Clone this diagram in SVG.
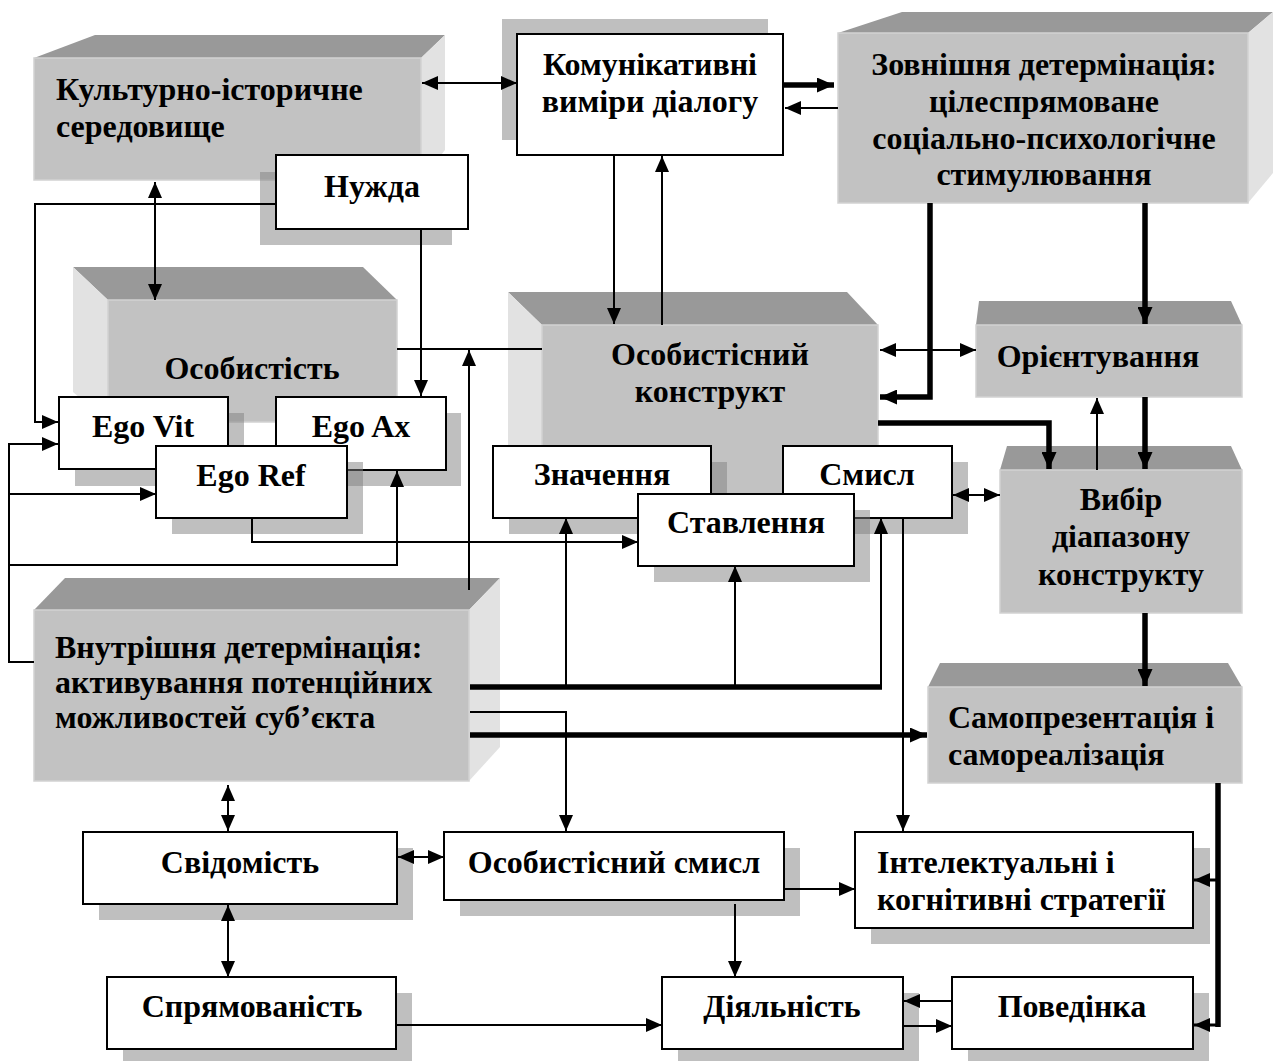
<svg xmlns="http://www.w3.org/2000/svg" width="1278" height="1061" viewBox="0 0 1278 1061">
  <defs>
    <marker id="ah" viewBox="0 0 16 14" refX="16" refY="7" markerWidth="16" markerHeight="14" markerUnits="userSpaceOnUse" orient="auto-start-reverse">
      <path d="M0,0 L16,7 L0,14 z" fill="#000"/>
    </marker>
    <marker id="ahb" viewBox="0 0 17 15" refX="17" refY="7.5" markerWidth="17" markerHeight="15" markerUnits="userSpaceOnUse" orient="auto-start-reverse">
      <path d="M0,0 L17,7.5 L0,15 z" fill="#000"/>
    </marker>
  </defs>
  <style>
    text { font-family: "Liberation Serif", "Times New Roman", serif; font-weight: bold; font-size: 32px; fill: #000; }
    .c { text-anchor: middle; }
    .front { fill: #c2c2c2; stroke: #d2d2d2; stroke-width: 1.5; }
    .top { fill: #999999; }
    .side { fill: #e2e2e2; }
    .box { fill: #ffffff; stroke: #000; stroke-width: 2; }
    .shadow { fill: #808080; fill-opacity: 0.5; }
    .thin { fill: none; stroke: #000; stroke-width: 2; }
    .mid { fill: none; stroke: #000; stroke-width: 3; }
    .thick { fill: none; stroke: #000; stroke-width: 5.5; }
  </style>
  <rect width="1278" height="1061" fill="#fff"/>

  <!-- 3D blocks -->
  <g id="kulturno">
    <polygon class="top" points="34,58 95,35 445,35 421,58"/>
    <polygon class="side" points="421,58 445,35 445,150 421,180"/>
    <rect class="front" x="34" y="58" width="387" height="122"/>
    <text x="56" y="100">Культурно-історичне</text>
    <text x="56" y="137">середовище</text>
  </g>

  <g id="osobystist">
    <polygon class="top" points="73,267 363,267 397,300 108,300"/>
    <polygon class="side" points="73,267 108,300 108,422 73,392"/>
    <rect class="front" x="108" y="300" width="289" height="122"/>
    <text class="c" x="252" y="379">Особистість</text>
  </g>

  <g id="konstrukt">
    <polygon class="top" points="508,292 847,292 878,325 542,325"/>
    <polygon class="side" points="508,292 542,325 542,500 508,467"/>
    <rect class="front" x="542" y="325" width="336" height="175"/>
    <text class="c" x="710" y="365">Особистісний</text>
    <text class="c" x="710" y="402">конструкт</text>
  </g>

  <g id="zovnishnia">
    <polygon class="top" points="838,33 902,12 1273,12 1248,33"/>
    <polygon class="side" points="1248,33 1273,12 1273,173 1248,203"/>
    <rect class="front" x="838" y="33" width="410" height="170"/>
    <text class="c" x="1044" y="75">Зовнішня детермінація:</text>
    <text class="c" x="1044" y="112">цілеспрямоване</text>
    <text class="c" x="1044" y="149">соціально-психологічне</text>
    <text class="c" x="1044" y="185">стимулювання</text>
  </g>

  <g id="oriientuvannia">
    <polygon class="top" points="976,325 979,301 1231,301 1242,325"/>
    <rect class="front" x="976" y="325" width="266" height="72"/>
    <text class="c" x="1098" y="367">Орієнтування</text>
  </g>

  <g id="vybir">
    <polygon class="top" points="1000,470 1007,446 1231,446 1242,470"/>
    <rect class="front" x="1000" y="470" width="242" height="143"/>
    <text class="c" x="1121" y="510">Вибір</text>
    <text class="c" x="1121" y="547">діапазону</text>
    <text class="c" x="1121" y="585">конструкту</text>
  </g>

  <g id="samoprezentatsiia">
    <polygon class="top" points="928,687 940,663 1228,663 1242,687"/>
    <rect class="front" x="928" y="687" width="314" height="96"/>
    <text x="948" y="728">Самопрезентація і</text>
    <text x="948" y="765">самореалізація</text>
  </g>

  <g id="vnutrishnia">
    <polygon class="top" points="34,610 65,578 500,578 469,610"/>
    <polygon class="side" points="469,610 500,578 500,747 469,781"/>
    <rect class="front" x="34" y="610" width="435" height="171"/>
    <text x="55" y="658">Внутрішня детермінація:</text>
    <text x="55" y="693">активування потенційних</text>
    <text x="55" y="728">можливостей суб’єкта</text>
  </g>

  <!-- plain boxes with drop shadows -->
  <g id="komunikatyvni">
    <rect class="shadow" x="502" y="19" width="266" height="121"/>
    <rect class="box" x="517" y="34" width="266" height="121"/>
    <text class="c" x="650" y="75">Комунікативні</text>
    <text class="c" x="650" y="112">виміри діалогу</text>
  </g>

  <g id="nuzhda">
    <rect class="shadow" x="260" y="172" width="192" height="73"/>
    <rect class="box" x="276" y="155" width="192" height="74"/>
    <text class="c" x="372" y="197">Нужда</text>
  </g>

  <g id="ego-vit">
    <rect class="shadow" x="75" y="413" width="169" height="73"/>
    <rect class="box" x="59" y="397" width="169" height="72"/>
    <text class="c" x="143" y="437">Ego Vit</text>
  </g>

  <g id="ego-ax">
    <rect class="shadow" x="292" y="413" width="169" height="73"/>
    <rect class="box" x="276" y="397" width="170" height="73"/>
    <text class="c" x="361" y="437">Ego Ax</text>
  </g>

  <g id="ego-ref">
    <rect class="shadow" x="172" y="462" width="191" height="72"/>
    <rect class="box" x="156" y="446" width="191" height="72"/>
    <text class="c" x="251" y="486">Ego Ref</text>
  </g>

  <g id="znachennia">
    <rect class="shadow" x="509" y="462" width="218" height="72"/>
    <rect class="box" x="493" y="446" width="218" height="72"/>
    <text class="c" x="602" y="485">Значення</text>
  </g>

  <g id="smysl">
    <rect class="shadow" x="799" y="462" width="169" height="72"/>
    <rect class="box" x="783" y="446" width="169" height="72"/>
    <text class="c" x="867" y="485">Смисл</text>
  </g>

  <g id="stavlennia">
    <rect class="shadow" x="654" y="510" width="216" height="72"/>
    <rect class="box" x="638" y="494" width="216" height="72"/>
    <text class="c" x="746" y="533">Ставлення</text>
  </g>

  <g id="svidomist">
    <rect class="shadow" x="99" y="848" width="314" height="72"/>
    <rect class="box" x="83" y="832" width="314" height="72"/>
    <text class="c" x="240" y="873">Свідомість</text>
  </g>

  <g id="osobystisnyi-smysl">
    <rect class="shadow" x="460" y="848" width="340" height="68"/>
    <rect class="box" x="444" y="832" width="340" height="68"/>
    <text class="c" x="614" y="873">Особистісний смисл</text>
  </g>

  <g id="intelektualni">
    <rect class="shadow" x="871" y="848" width="339" height="96"/>
    <rect class="box" x="855" y="832" width="338" height="96"/>
    <text x="877" y="873">Інтелектуальні і</text>
    <text x="877" y="910">когнітивні стратегії</text>
  </g>

  <g id="spriamovanist">
    <rect class="shadow" x="123" y="993" width="289" height="68"/>
    <rect class="box" x="107" y="977" width="289" height="72"/>
    <text class="c" x="252" y="1017">Спрямованість</text>
  </g>

  <g id="diialnist">
    <rect class="shadow" x="678" y="993" width="241" height="68"/>
    <rect class="box" x="662" y="977" width="241" height="72"/>
    <text class="c" x="782" y="1017">Діяльність</text>
  </g>

  <g id="povedinka">
    <rect class="shadow" x="968" y="993" width="241" height="68"/>
    <rect class="box" x="952" y="977" width="241" height="72"/>
    <text class="c" x="1072" y="1017">Поведінка</text>
  </g>

  <!-- connectors -->
  <g id="connectors">
    <path class="thin" d="M422,83 H517" marker-start="url(#ah)" marker-end="url(#ah)"/>
    <path class="thick" d="M783,85 H834" marker-end="url(#ahb)"/>
    <path class="thin" d="M838,108 H785" marker-end="url(#ah)"/>
    <path class="thin" d="M614,155 V324" marker-end="url(#ah)"/>
    <path class="thin" d="M662,325 V156" marker-end="url(#ah)"/>
    <path class="thin" d="M155,182 V300" marker-start="url(#ah)" marker-end="url(#ah)"/>
    <path class="thin" d="M276,204 H35 V422 H58" marker-end="url(#ah)"/>
    <path class="thin" d="M421,229 V396" marker-end="url(#ah)"/>
    <path class="thin" d="M34,662 H9 V444 H58" marker-end="url(#ah)"/>
    <path class="thin" d="M9,494 H156" marker-end="url(#ah)"/>
    <path class="thin" d="M9,565 H397 V471" marker-end="url(#ah)"/>
    <path class="thin" d="M252,518 V542 H638" marker-end="url(#ah)"/>
    <path class="thin" d="M397,349 H542"/>
    <path class="thin" d="M469,590 V350" marker-end="url(#ah)"/>
    <path class="thin" d="M880,350 H976" marker-start="url(#ah)" marker-end="url(#ah)"/>
    <path class="thick" d="M930,203 V397 H880" marker-end="url(#ahb)"/>
    <path class="thick" d="M1145,203 V324" marker-end="url(#ahb)"/>
    <path class="thick" d="M1145,397 V469" marker-end="url(#ahb)"/>
    <path class="thin" d="M1097,470 V398" marker-end="url(#ah)"/>
    <path class="thick" d="M878,423 H1049 V469" marker-end="url(#ahb)"/>
    <path class="thin" d="M953,495 H1000" marker-start="url(#ah)" marker-end="url(#ah)"/>
    <path class="thick" d="M470,687 H882"/>
    <path class="thin" d="M566,687 V518" marker-end="url(#ah)"/>
    <path class="thin" d="M735,687 V566" marker-end="url(#ah)"/>
    <path class="thin" d="M881,689 V518" marker-end="url(#ah)"/>
    <path class="thin" d="M470,712 H566 V831" marker-end="url(#ah)"/>
    <path class="thick" d="M470,735 H927" marker-end="url(#ahb)"/>
    <path class="thin" d="M903,518 V831" marker-end="url(#ah)"/>
    <path class="thick" d="M1145,613 V686" marker-end="url(#ahb)"/>
    <path class="thick" d="M1218,783 V1027"/>
    <path class="mid" d="M1220,1025 H1194" marker-end="url(#ah)"/>
    <path class="mid" d="M1218,880 H1194" marker-end="url(#ah)"/>
    <path class="thin" d="M228,785 V831" marker-start="url(#ah)" marker-end="url(#ah)"/>
    <path class="thin" d="M228,905 V977" marker-start="url(#ah)" marker-end="url(#ah)"/>
    <path class="thin" d="M398,857 H444" marker-start="url(#ah)" marker-end="url(#ah)"/>
    <path class="thin" d="M784,889 H855" marker-end="url(#ah)"/>
    <path class="thin" d="M735,904 V977" marker-end="url(#ah)"/>
    <path class="thin" d="M396,1025 H662" marker-end="url(#ah)"/>
    <path class="thin" d="M952,1001 H904" marker-end="url(#ah)"/>
    <path class="thin" d="M903,1026 H952" marker-end="url(#ah)"/>
  </g>
</svg>
